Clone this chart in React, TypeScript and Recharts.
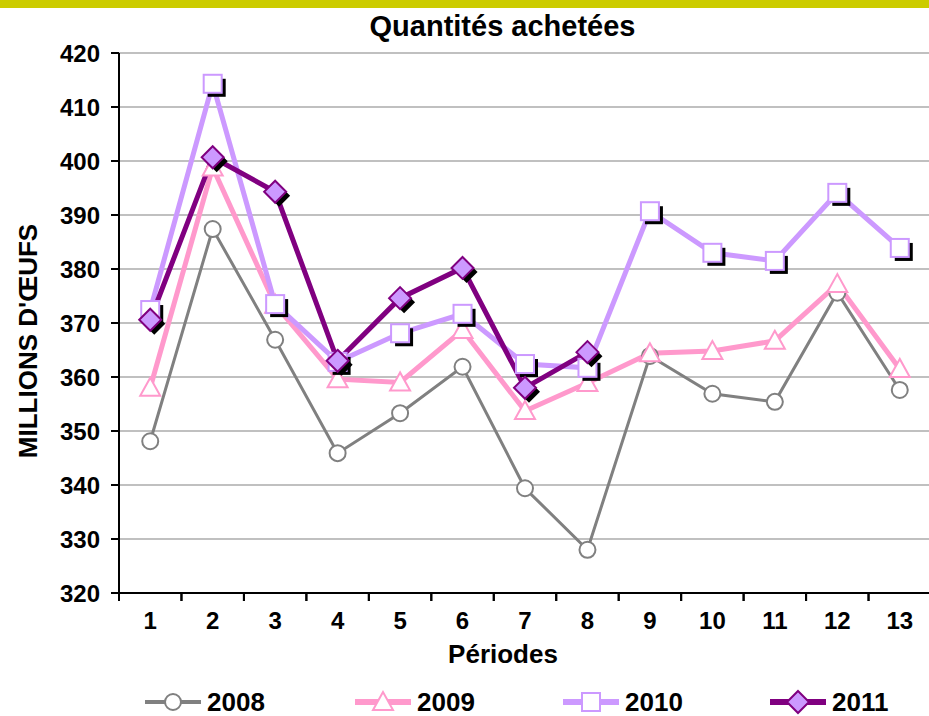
import { LineChart, Line, XAxis, YAxis, CartesianGrid, Legend, Label } from 'recharts'

const periods = [1, 2, 3, 4, 5, 6, 7, 8, 9, 10, 11, 12, 13]
const y2008 = [348.1, 387.4, 366.9, 345.9, 353.3, 361.9, 339.4, 328.0, 363.9, 356.9, 355.4, 375.6, 357.6]
const y2009 = [358.0, 398.8, 373.4, 359.6, 359.0, 368.7, 353.7, 358.9, 364.4, 364.8, 366.7, 377.2, 361.5]
const y2010 = [372.4, 414.3, 373.5, 362.8, 368.1, 371.7, 362.4, 361.7, 390.7, 383.0, 381.5, 394.1, 383.9]
const y2011 = [370.6, 400.7, 394.3, 363.0, 374.6, 380.2, 358.0, 364.6]
const yTicks = [320, 330, 340, 350, 360, 370, 380, 390, 400, 410, 420]

const data = periods.map((p, i) => ({
  p,
  a2008: y2008[i],
  a2009: y2009[i],
  a2010: y2010[i],
  a2011: y2011[i],
}))

const FONT = '"Liberation Sans", Arial, sans-serif'
const GREY = '#808080'
const PINK = '#FF99CC'
const LAVENDER = '#CC99FF'
const PURPLE = '#800080'
const TICK_SIZE = 8
const TICK_MARGIN = 11

type Mk = 'circle' | 'triangle' | 'square' | 'diamond'

function Marker({ kind, cx, cy, shadow = true }: { kind: Mk; cx: number; cy: number; shadow?: boolean }) {
  if (kind === 'circle') {
    return <circle cx={cx} cy={cy} r={8} fill="#fff" stroke={GREY} strokeWidth={2} />
  }
  if (kind === 'triangle') {
    const pts = `${cx},${cy - 10} ${cx - 10},${cy + 8} ${cx + 10},${cy + 8}`
    return <polygon points={pts} fill="#fff" stroke={PINK} strokeWidth={2} />
  }
  if (kind === 'square') {
    return (
      <g>
        {shadow && <rect x={cx - 5} y={cy - 5} width={18} height={18} fill="#000" />}
        <rect x={cx - 9} y={cy - 9} width={18} height={18} fill="#fff" stroke={LAVENDER} strokeWidth={2} />
      </g>
    )
  }
  const d = (ox: number, oy: number) =>
    `M${cx + ox},${cy + oy - 11} L${cx + ox + 11},${cy + oy} L${cx + ox},${cy + oy + 11} L${cx + ox - 11},${cy + oy} Z`
  return (
    <g>
      {shadow && <path d={d(4, 4)} fill="#000" />}
      <path d={d(0, 0)} fill={LAVENDER} stroke={PURPLE} strokeWidth={2} />
    </g>
  )
}

const makeDot = (kind: Mk) => (props: any) => {
  const { cx, cy, index, value } = props
  if (value == null || cx == null || cy == null) return <g key={`e-${kind}-${index}`} />
  return <Marker key={`${kind}-${index}`} kind={kind} cx={cx} cy={cy} />
}

const XTick = (props: any) => {
  const { x, y, payload, width } = props
  const half = width / periods.length / 2
  const top = y - TICK_SIZE - TICK_MARGIN
  return (
    <g>
      <line x1={x - half} y1={top} x2={x - half} y2={top + TICK_SIZE} stroke="#000" strokeWidth={2} />
      <line x1={x + half} y1={top} x2={x + half} y2={top + TICK_SIZE} stroke="#000" strokeWidth={2} />
      <text x={x} y={y} dy="0.71em" textAnchor="middle" fontFamily={FONT} fontWeight="bold" fontSize={24} fill="#000">
        {payload.value}
      </text>
    </g>
  )
}

const legendItems: { name: string; color: string; width: number; kind: Mk; left: number }[] = [
  { name: '2008', color: GREY, width: 4, kind: 'circle', left: 145 },
  { name: '2009', color: PINK, width: 6, kind: 'triangle', left: 355 },
  { name: '2010', color: LAVENDER, width: 6, kind: 'square', left: 563 },
  { name: '2011', color: PURPLE, width: 6, kind: 'diamond', left: 770 },
]

function renderLegend() {
  return (
    <div style={{ position: 'relative', height: 28, width: 929 }}>
      {legendItems.map((it) => (
        <div key={it.name} style={{ position: 'absolute', left: it.left, top: 0, height: 28, display: 'flex', alignItems: 'center' }}>
          <svg width={56} height={28}>
            <line x1={0} y1={14} x2={56} y2={14} stroke={it.color} strokeWidth={it.width} />
            <Marker kind={it.kind} cx={28} cy={14} shadow={false} />
          </svg>
          <span style={{ marginLeft: 6, fontFamily: FONT, fontWeight: 'bold', fontSize: 26, color: '#000' }}>{it.name}</span>
        </div>
      ))}
    </div>
  )
}

export default function App() {
  return (
    <div style={{ position: 'relative', width: 929, height: 716, overflow: 'hidden', background: '#fff' }}>
      <style>{'body{margin:0}'}</style>
      <div style={{ position: 'absolute', left: 0, top: 0, width: 929, height: 8, background: '#CCCC00' }} />
      <div
        style={{
          position: 'absolute',
          left: 0,
          top: 8,
          width: 1005,
          textAlign: 'center',
          fontFamily: FONT,
          fontWeight: 'bold',
          fontSize: 29,
          lineHeight: '36px',
          color: '#000',
        }}
      >
        Quantités achetées
      </div>
      <LineChart width={940} height={716} data={data} margin={{ top: 53, right: 9, bottom: 0, left: 0 }}>
        <CartesianGrid vertical={false} stroke="#C0C0C0" strokeWidth={2} />
        <XAxis
          dataKey="p"
          type="number"
          domain={[0.5, 13.5]}
          ticks={periods}
          interval={0}
          height={95}
          axisLine={{ stroke: '#000', strokeWidth: 2 }}
          tickLine={false}
          tickSize={TICK_SIZE}
          tickMargin={TICK_MARGIN}
          tick={<XTick />}
        >
          <Label
            content={(p: any) => (
              <text
                x={503}
                y={p.viewBox.y + 70}
                textAnchor="middle"
                fontFamily={FONT}
                fontWeight="bold"
                fontSize={26}
                fill="#000"
              >
                Périodes
              </text>
            )}
          />
        </XAxis>
        <YAxis
          domain={[320, 420]}
          ticks={yTicks}
          interval={0}
          width={119}
          axisLine={{ stroke: '#000', strokeWidth: 2 }}
          tickLine={{ stroke: '#000', strokeWidth: 2 }}
          tickSize={TICK_SIZE}
          tickMargin={11}
          tick={{ fontFamily: FONT, fontWeight: 'bold', fontSize: 24, fill: '#000' }}
        >
          <Label
            content={() => (
              <text
                x={0}
                y={0}
                transform="translate(37, 341) rotate(-90)"
                textAnchor="middle"
                fontFamily={FONT}
                fontWeight="bold"
                fontSize={26}
                fill="#000"
              >
                MILLIONS D'ŒUFS
              </text>
            )}
          />
        </YAxis>
        <Legend verticalAlign="bottom" content={renderLegend} wrapperStyle={{ left: 0, width: 929 }} />
        <Line dataKey="a2008" name="2008" stroke={GREY} strokeWidth={3} dot={makeDot('circle')} activeDot={false} isAnimationActive={false} />
        <Line dataKey="a2009" name="2009" stroke={PINK} strokeWidth={5} dot={makeDot('triangle')} activeDot={false} isAnimationActive={false} />
        <Line dataKey="a2010" name="2010" stroke={LAVENDER} strokeWidth={5} dot={makeDot('square')} activeDot={false} isAnimationActive={false} />
        <Line dataKey="a2011" name="2011" stroke={PURPLE} strokeWidth={5} dot={makeDot('diamond')} activeDot={false} isAnimationActive={false} />
      </LineChart>
    </div>
  )
}
